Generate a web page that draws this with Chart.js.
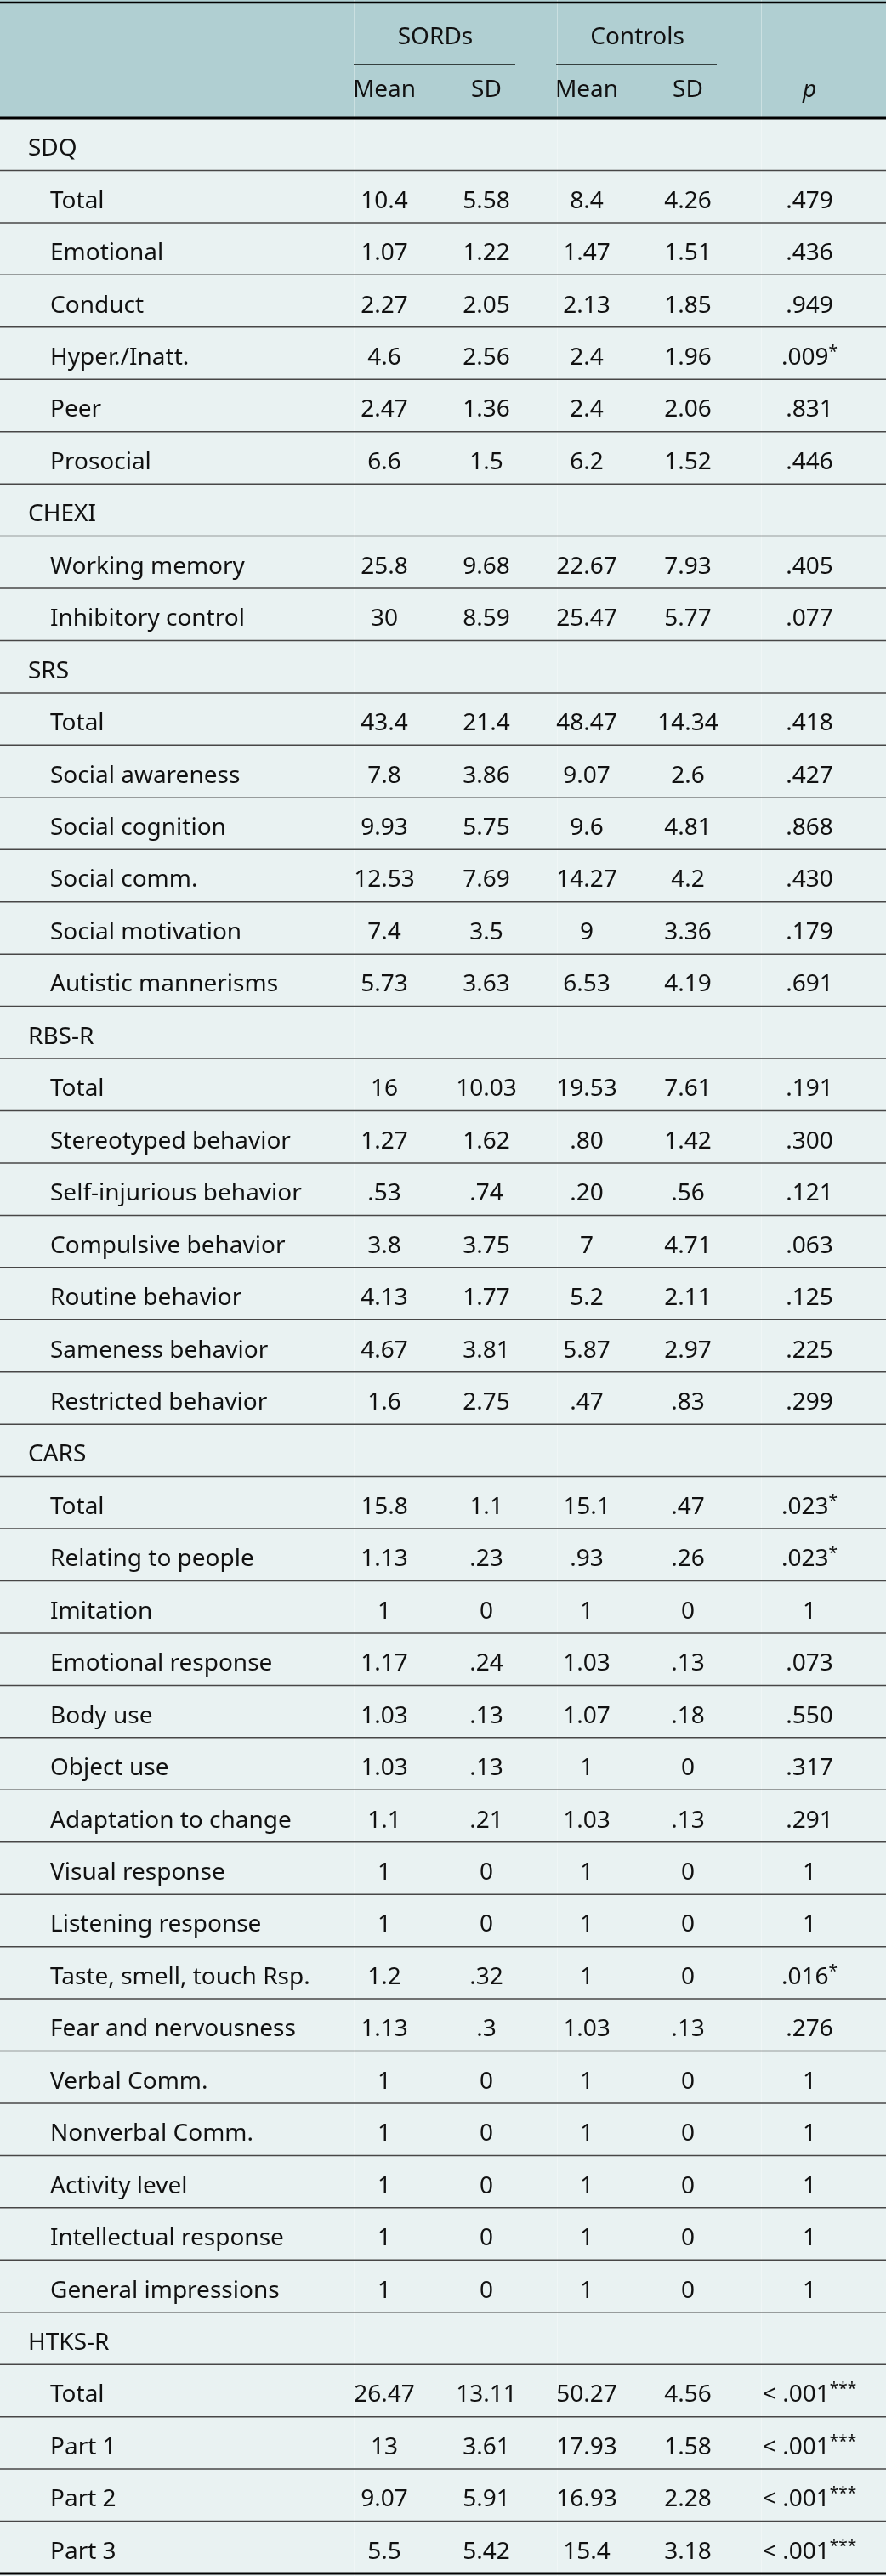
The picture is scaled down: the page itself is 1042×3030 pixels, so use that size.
<!DOCTYPE html>
<html>
<head>
<meta charset="utf-8">
<script src="https://cdn.jsdelivr.net/npm/chart.js@4.4.1/dist/chart.umd.min.js"></script>
<style>
  html, body { margin: 0; padding: 0; background: #e9f2f2; }
  #wrap { width: 1042px; height: 3030px; position: relative; }
</style>
</head>
<body>
<div id="wrap"><canvas id="table-chart"></canvas></div>
<script>
// table rows (section rows have no values)
var rowLabels = ["SDQ", "Total", "Emotional", "Conduct", "Hyper./Inatt.", "Peer", "Prosocial",
    "CHEXI", "Working memory", "Inhibitory control",
    "SRS", "Total", "Social awareness", "Social cognition", "Social comm.", "Social motivation", "Autistic mannerisms",
    "RBS-R", "Total", "Stereotyped behavior", "Self-injurious behavior", "Compulsive behavior", "Routine behavior", "Sameness behavior", "Restricted behavior",
    "CARS", "Total", "Relating to people", "Imitation", "Emotional response", "Body use", "Object use", "Adaptation to change", "Visual response", "Listening response", "Taste, smell, touch Rsp.", "Fear and nervousness", "Verbal Comm.", "Nonverbal Comm.", "Activity level", "Intellectual response", "General impressions",
    "HTKS-R", "Total", "Part 1", "Part 2", "Part 3"];
var sordsMean = ["", "10.4", "1.07", "2.27", "4.6", "2.47", "6.6",
    "", "25.8", "30",
    "", "43.4", "7.8", "9.93", "12.53", "7.4", "5.73",
    "", "16", "1.27", ".53", "3.8", "4.13", "4.67", "1.6",
    "", "15.8", "1.13", "1", "1.17", "1.03", "1.03", "1.1", "1", "1", "1.2", "1.13", "1", "1", "1", "1", "1",
    "", "26.47", "13", "9.07", "5.5"];
var sordsSD = ["", "5.58", "1.22", "2.05", "2.56", "1.36", "1.5",
    "", "9.68", "8.59",
    "", "21.4", "3.86", "5.75", "7.69", "3.5", "3.63",
    "", "10.03", "1.62", ".74", "3.75", "1.77", "3.81", "2.75",
    "", "1.1", ".23", "0", ".24", ".13", ".13", ".21", "0", "0", ".32", ".3", "0", "0", "0", "0", "0",
    "", "13.11", "3.61", "5.91", "5.42"];
var ctrlMean = ["", "8.4", "1.47", "2.13", "2.4", "2.4", "6.2",
    "", "22.67", "25.47",
    "", "48.47", "9.07", "9.6", "14.27", "9", "6.53",
    "", "19.53", ".80", ".20", "7", "5.2", "5.87", ".47",
    "", "15.1", ".93", "1", "1.03", "1.07", "1", "1.03", "1", "1", "1", "1.03", "1", "1", "1", "1", "1",
    "", "50.27", "17.93", "16.93", "15.4"];
var ctrlSD = ["", "4.26", "1.51", "1.85", "1.96", "2.06", "1.52",
    "", "7.93", "5.77",
    "", "14.34", "2.6", "4.81", "4.2", "3.36", "4.19",
    "", "7.61", "1.42", ".56", "4.71", "2.11", "2.97", ".83",
    "", ".47", ".26", "0", ".13", ".18", "0", ".13", "0", "0", "0", ".13", "0", "0", "0", "0", "0",
    "", "4.56", "1.58", "2.28", "3.18"];
var pValues = ["", ".479", ".436", ".949", ".009*", ".831", ".446",
    "", ".405", ".077",
    "", ".418", ".427", ".868", ".430", ".179", ".691",
    "", ".191", ".300", ".121", ".063", ".125", ".225", ".299",
    "", ".023*", ".023*", "1", ".073", ".550", ".317", ".291", "1", "1", ".016*", ".276", "1", "1", "1", "1", "1",
    "", "< .001***", "< .001***", "< .001***", "< .001***"];

var groupNames = ["SORDs", "Controls"];
var statNames = ["Mean", "SD"];
var pLabel = "p";

// layout
var FONT = "'Noto Sans', sans-serif";
var FS = 28;
var HEAD_H = 139;
var colX = [59, 452, 572, 690, 809, 952];   // label, mean, sd, mean, sd, p
var sectionX = 33;
var columns = [rowLabels, sordsMean, sordsSD, ctrlMean, ctrlSD, pValues];

function isSection(i) { return sordsMean[i] === ""; }

var datasets = columns.map(function (col, c) {
    return {
        label: "col" + c,
        data: col.map(function (v, i) {
            return { x: (c === 0 && isSection(i)) ? sectionX : colX[c], y: i };
        }),
        pointRadius: 0,
        pointHoverRadius: 0
    };
});

var tablePlugin = {
    id: "tableText",
    beforeDraw: function (chart) {
        var ctx = chart.ctx, w = chart.width, h = chart.height;
        var ys = chart.scales.y;
        ctx.save();
        ctx.fillStyle = "#e9f2f2";
        ctx.fillRect(0, 0, w, h);
        ctx.fillStyle = "#b0cfd2";
        ctx.fillRect(0, 0, w, ys.getPixelForValue(-0.5));
        // faint column seams
        ctx.strokeStyle = "rgba(255,255,255,0.35)";
        ctx.lineWidth = 1;
        [416.5, 655.5, 895.5].forEach(function (x) {
            ctx.beginPath(); ctx.moveTo(x, 0); ctx.lineTo(x, h); ctx.stroke();
        });
        // row rules
        ctx.strokeStyle = "#474747";
        ctx.lineWidth = 1.5;
        for (var i = 0; i < rowLabels.length - 1; i++) {
            var y = ys.getPixelForValue(i + 0.5);
            ctx.beginPath(); ctx.moveTo(0, y); ctx.lineTo(w, y); ctx.stroke();
        }
        ctx.restore();
    },
    afterDatasetsDraw: function (chart) {
        var ctx = chart.ctx, w = chart.width;
        var ys = chart.scales.y, xs = chart.scales.x;
        ctx.save();
        ctx.fillStyle = "#111";
        ctx.textBaseline = "alphabetic";

        // cells
        chart.data.datasets.forEach(function (ds, c) {
            var meta = chart.getDatasetMeta(c);
            meta.data.forEach(function (pt, i) {
                var txt = columns[c][i];
                if (!txt) return;
                var base = pt.y + 13.5;
                ctx.font = FS + "px " + FONT;
                if (c === 0) {
                    ctx.textAlign = "left";
                    ctx.fillText(txt, pt.x, base);
                    return;
                }
                var m = txt.match(/^([^*]*)(\**)$/);
                var main = m[1], stars = m[2];
                var mw = ctx.measureText(main).width;
                ctx.font = "19px " + FONT;
                var sw = stars ? ctx.measureText(stars).width : 0;
                var left = pt.x - (mw + sw) / 2;
                ctx.textAlign = "left";
                ctx.font = FS + "px " + FONT;
                ctx.fillText(main, left, base);
                if (stars) {
                    ctx.font = "19px " + FONT;
                    ctx.fillText(stars, left + mw, base - 9);
                }
            });
        });

        // header
        ctx.font = FS + "px " + FONT;
        ctx.textAlign = "center";
        var headTop = ys.getPixelForValue(-0.5);
        groupNames.forEach(function (g, k) {
            var x1 = xs.getPixelForValue(colX[1 + 2 * k]);
            var x2 = xs.getPixelForValue(colX[2 + 2 * k]);
            ctx.fillText(g, (x1 + x2) / 2, 52);
            ctx.strokeStyle = "#34403f";
            ctx.lineWidth = 2;
            ctx.beginPath();
            ctx.moveTo(x1 - 36, 76); ctx.lineTo(x2 + 34, 76);
            ctx.stroke();
            statNames.forEach(function (s, j) {
                ctx.fillText(s, xs.getPixelForValue(colX[1 + 2 * k + j]), 114);
            });
        });
        ctx.font = "italic " + FS + "px " + FONT;
        ctx.fillText(pLabel, xs.getPixelForValue(colX[5]), 114);

        // heavy rules
        ctx.strokeStyle = "#000";
        ctx.lineWidth = 2.5;
        ctx.beginPath(); ctx.moveTo(0, 3); ctx.lineTo(w, 3); ctx.stroke();
        ctx.lineWidth = 3;
        ctx.beginPath(); ctx.moveTo(0, headTop); ctx.lineTo(w, headTop); ctx.stroke();
        var bottom = ys.getPixelForValue(rowLabels.length - 0.5);
        ctx.beginPath(); ctx.moveTo(0, bottom); ctx.lineTo(w, bottom); ctx.stroke();
        ctx.restore();
    }
};

var ctx = document.getElementById("table-chart").getContext("2d");
var tableChart = new Chart(ctx, {
    type: "scatter",
    data: { datasets: datasets },
    options: {
        responsive: true,
        maintainAspectRatio: false,
        animation: false,
        events: [],
        layout: { padding: { top: HEAD_H, bottom: 3, left: 0, right: 0 } },
        plugins: { legend: { display: false }, tooltip: { enabled: false } },
        scales: {
            x: { type: "linear", display: false, min: 0, max: 1042 },
            y: { type: "linear", display: false, reverse: true, min: -0.5, max: rowLabels.length - 0.5 }
        }
    },
    plugins: [tablePlugin]
});
</script>
</body>
</html>
